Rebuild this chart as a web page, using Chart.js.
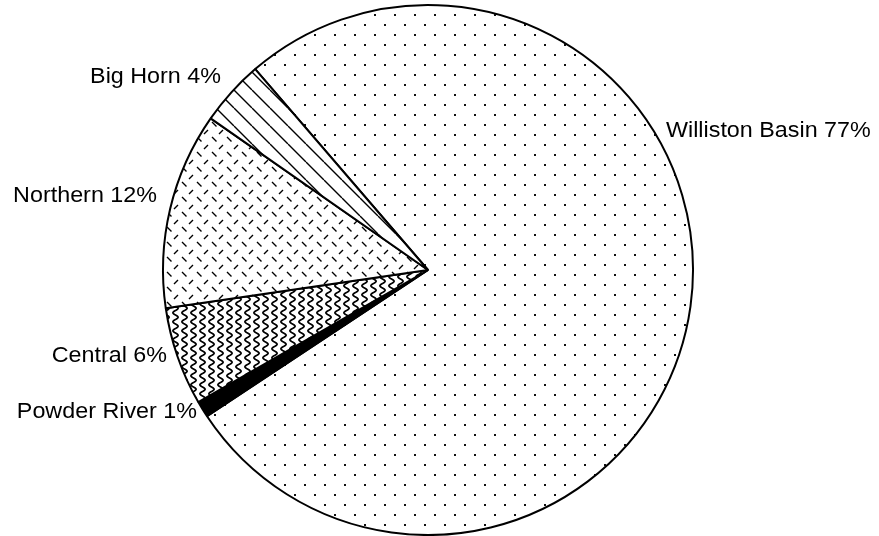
<!DOCTYPE html>
<html>
<head>
<meta charset="utf-8">
<script src="https://cdn.jsdelivr.net/npm/chart.js@4.4.0/dist/chart.umd.min.js"></script>
<style>
  html, body { margin: 0; padding: 0; background: #fff; }
  #wrap { width: 879px; height: 536px; }
</style>
</head>
<body>
<div id="wrap"><canvas id="pieChart" width="879" height="536"></canvas></div>
<script>
// Regions and their shares (percent), drawn clockwise from the top-left
const regions = ['Williston Basin', 'Powder River', 'Central', 'Northern', 'Big Horn'];
const shares = [77, 1, 6, 12, 4];
const labelTexts = ['Williston Basin 77%', 'Powder River 1%', 'Central 6%', 'Northern 12%', 'Big Horn 4%'];

// where the labels sit (x, baseline y, alignment)
const labelSpots = [
  [666, 137, 'left'],
  [197, 418, 'right'],
  [167, 362, 'right'],
  [157, 202, 'right'],
  [221, 83, 'right']
];

// make a small tile and turn it into a fill pattern
function makePattern(w, h, drawFn) {
  const c = document.createElement('canvas');
  c.width = w;
  c.height = h;
  const ctx = c.getContext('2d');
  ctx.fillStyle = '#fff';
  ctx.fillRect(0, 0, w, h);
  ctx.strokeStyle = '#000';
  ctx.fillStyle = '#000';
  drawFn(ctx);
  return ctx.createPattern(c, 'repeat');
}

// dotted
const dots = makePattern(20, 20, function (ctx) {
  ctx.fillStyle = '#111';
  ctx.fillRect(4, 4, 2, 2);
  ctx.fillRect(14, 14, 2, 2);
});

// vertical squiggles
const waves = makePattern(9, 9, function (ctx) {
  ctx.lineWidth = 1.7;
  ctx.beginPath();
  for (let y = -1; y <= 10; y += 0.5) {
    const x = 4.5 + 2.6 * Math.sin(y / 9 * Math.PI * 2);
    if (y === -1) ctx.moveTo(x, y); else ctx.lineTo(x, y);
  }
  ctx.stroke();
});

// dashed cross hatch
const dashes = makePattern(15, 15, function (ctx) {
  ctx.lineWidth = 1.4;
  ctx.beginPath();
  ctx.moveTo(2, 2); ctx.lineTo(6.5, 6.5);
  ctx.moveTo(9, 14); ctx.lineTo(13, 10);
  ctx.stroke();
});

// diagonal lines
const hatch = makePattern(18, 18, function (ctx) {
  ctx.lineWidth = 1.4;
  ctx.beginPath();
  for (let k = -1; k <= 1; k++) {
    ctx.moveTo(k * 18, 0);
    ctx.lineTo(k * 18 + 18, 18);
  }
  ctx.stroke();
});

const fills = [dots, '#000', waves, dashes, hatch];

const labelPlugin = {
  id: 'sliceLabels',
  afterDraw(chart) {
    const ctx = chart.ctx;
    ctx.save();
    ctx.fillStyle = '#000';
    ctx.font = '22px "Liberation Sans", Arial, sans-serif';
    ctx.textBaseline = 'alphabetic';
    for (let i = 0; i < labelTexts.length; i++) {
      const [x, y, align] = labelSpots[i];
      ctx.save();
      ctx.translate(x, y);
      ctx.scale(1.06, 1);
      ctx.textAlign = align;
      ctx.fillText(labelTexts[i], 0, 0);
      ctx.restore();
    }
    ctx.restore();
  }
};

new Chart(document.getElementById('pieChart'), {
  type: 'pie',
  data: {
    labels: regions,
    datasets: [{
      data: shares,
      backgroundColor: fills,
      borderColor: '#000',
      borderWidth: 2
    }]
  },
  options: {
    responsive: false,
    animation: false,
    devicePixelRatio: 1,
    rotation: 319.3,
    layout: { padding: { top: 4, bottom: 0, left: 0, right: 23 } },
    plugins: {
      legend: { display: false },
      tooltip: { enabled: false }
    }
  },
  plugins: [labelPlugin]
});
</script>
</body>
</html>
